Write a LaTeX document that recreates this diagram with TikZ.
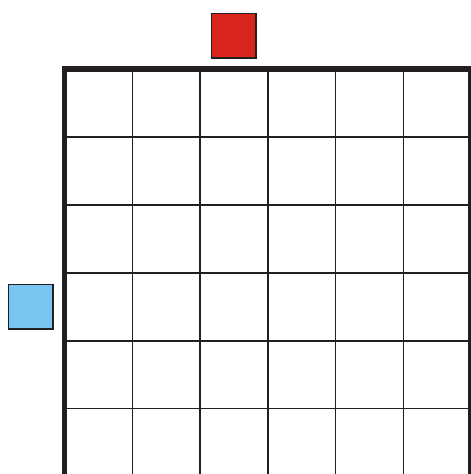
\documentclass[tikz,border=0pt]{standalone}
\usepackage{xcolor}
\usepackage{tikz}
\usetikzlibrary{positioning}
\definecolor{Frame}{HTML}{231F20}
\definecolor{RedSq}{HTML}{DA251D}
\definecolor{BlueSq}{HTML}{76C6F1}

\begin{document}
\begin{tikzpicture}[x=1pt,y=-1pt,
    sq/.style={draw=Frame,line width=1.5pt,minimum size=44.5pt,inner sep=0pt},
    g/.style={draw=Frame,line width=1.5pt}]
    \useasboundingbox (0,0) rectangle (471,474);
    \foreach \i in {1,...,5} {
      \draw[g] (64.5+\i*67.75,69.2) -- ++(0,406.5);
      \draw[g] (64.5,69.2+\i*67.9) -- ++(406.5,0);
    }
    \draw[draw=Frame,line width=5.7pt] (64.5,69.2) rectangle (471,476.6);
    \node[sq,fill=RedSq] (red) at (233.7,35.5) {};
    \node[sq,fill=BlueSq] (blue) at (30.7,306.7) {};
  \end{tikzpicture}
\end{document}
